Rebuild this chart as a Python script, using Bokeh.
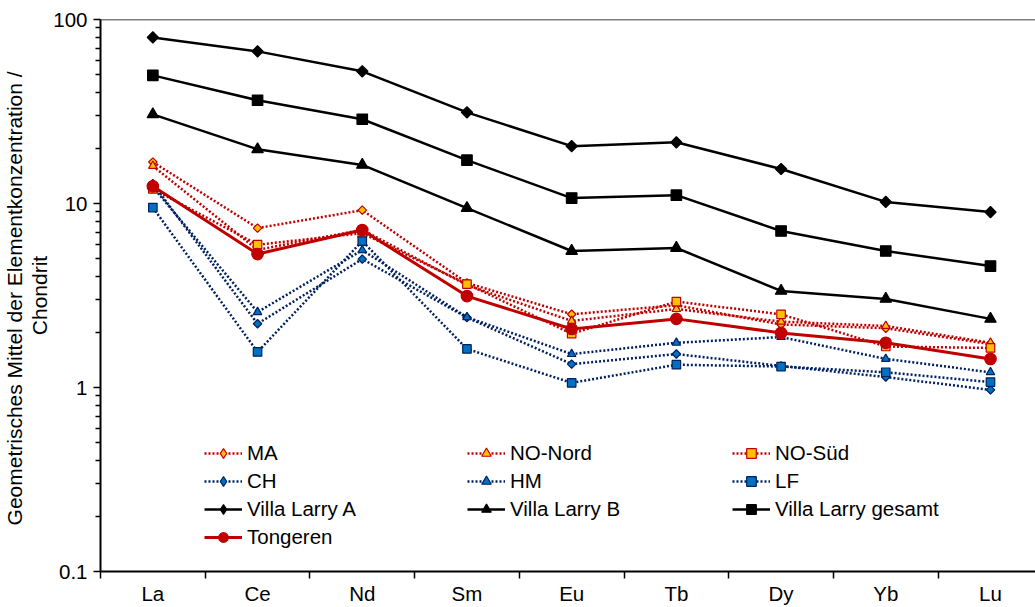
from bokeh.plotting import figure
from bokeh.models import Range1d, FixedTicker, CustomJSTickFormatter, Legend, LegendItem, Span, Title
from bokeh.embed import file_html
from bokeh.resources import INLINE
import numpy as np

elements = ["La", "Ce", "Nd", "Sm", "Eu", "Tb", "Dy", "Yb", "Lu"]
ma = [16.8, 7.35, 9.2, 3.7, 2.5, 2.8, 2.2, 2.1, 1.72]
no_nord = [16.0, 5.6, 7.2, 3.6, 2.3, 2.67, 2.28, 2.16, 1.75]
no_sued = [12.0, 5.97, 6.9, 3.65, 1.96, 2.93, 2.5, 1.67, 1.64]
ch = [12.8, 2.22, 4.99, 2.4, 1.34, 1.52, 1.31, 1.14, 0.97]
hm = [12.3, 2.57, 5.58, 2.41, 1.52, 1.75, 1.88, 1.43, 1.21]
lf = [9.5, 1.56, 6.25, 1.62, 1.06, 1.33, 1.30, 1.21, 1.07]
vl_a = [79.9, 67.1, 52.3, 31.3, 20.5, 21.5, 15.4, 10.2, 8.98]
vl_b = [30.5, 19.7, 16.2, 9.44, 5.52, 5.73, 3.35, 3.03, 2.36]
vl_g = [49.7, 36.4, 28.7, 17.2, 10.7, 11.1, 7.09, 5.52, 4.57]
tongeren = [12.4, 5.31, 7.17, 3.14, 2.08, 2.36, 1.98, 1.75, 1.43]
y_title = ["Geometrisches Mittel der Elementkonzentration  /", "Chondrit"]

FONT = "Liberation Sans"
FS = "20.5px"
FS_LABEL = "21px"
RED = "#C00000"
ORANGE = "#FFC000"
NAVY = "#002060"
BLUE = "#0070C0"

xs = [i + 0.5 for i in range(len(elements))]

p = figure(width=1035, height=607, y_axis_type="log",
           x_range=Range1d(0, 8.93), y_range=Range1d(0.1, 100),
           output_backend="svg", toolbar_location=None,
           min_border_left=100, min_border_right=0,
           min_border_top=19, min_border_bottom=35)
p.outline_line_color = None
p.grid.visible = False
p.background_fill_color = "white"

# top frame line
p.add_layout(Span(location=100, dimension="width", line_color="black", line_width=1.5))

D = np.pi / 4

def series(vals, line_color, dash, lw, marker, size, fill, outline, diamond_legend=None):
    l = p.line(xs, vals, line_color=line_color, line_width=lw, line_dash=dash)
    if diamond_legend is None:
        s = p.scatter(xs, vals, marker=marker, size=size, fill_color=fill,
                      line_color=outline, line_width=1.2)
        return [l, s]
    s = p.scatter(xs, vals, marker="square", size=size, fill_color=fill,
                  line_color=outline, line_width=1.2, angle=D)
    # legend-only marker (legend glyphs ignore the rotation angle)
    lg_l = p.line([np.nan], [np.nan], line_color=line_color, line_width=lw, line_dash=dash)
    lg_s = p.scatter([np.nan], [np.nan], marker="diamond", size=diamond_legend,
                     fill_color=fill, line_color=outline, line_width=1.2)
    return [lg_l, lg_s]

r_ma = series(ma, RED, "2 2", 2.5, None, 6, ORANGE, RED, diamond_legend=10)
r_nn = series(no_nord, RED, "2 2", 2.5, "triangle", 8.5, ORANGE, RED)
r_ns = series(no_sued, RED, "2 2", 2.5, "square", 8.5, ORANGE, RED)
r_ch = series(ch, NAVY, "2 2", 2.5, None, 6, BLUE, NAVY, diamond_legend=10)
r_hm = series(hm, NAVY, "2 2", 2.5, "triangle", 8.5, BLUE, NAVY)
r_lf = series(lf, NAVY, "2 2", 2.5, "square", 8.5, BLUE, NAVY)
r_va = series(vl_a, "black", "solid", 2.5, None, 8, "black", "black", diamond_legend=13)
r_vb = series(vl_b, "black", "solid", 2.5, "triangle", 11.5, "black", "black")
r_vg = series(vl_g, "black", "solid", 2.5, "square", 10.5, "black", "black")
r_tg = series(tongeren, RED, "solid", 3, "circle", 11.5, RED, RED)

# x axis
xa = p.xaxis[0]
xa.ticker = FixedTicker(ticks=xs, minor_ticks=list(range(0, 10)))
xa.major_label_overrides = {x: e for x, e in zip(xs, elements)}
xa.major_tick_line_color = None
xa.major_tick_out = 0
xa.minor_tick_out = 7
xa.minor_tick_in = 0
xa.minor_tick_line_width = 1.5
xa.minor_tick_line_color = "black"
xa.axis_line_width = 2
xa.axis_line_color = "black"
xa.major_label_standoff = 3
xa.major_label_text_font = FONT
xa.major_label_text_font_size = FS
xa.major_label_text_color = "black"

# y axis
ya = p.yaxis[0]
minor = []
for dec in [0.1, 1, 10]:
    minor += [dec * k for k in range(2, 10)]
ya.ticker = FixedTicker(ticks=[0.1, 1, 10, 100], minor_ticks=minor)
ya.formatter = CustomJSTickFormatter(code="return String(Math.round(tick*10)/10);")
ya.major_tick_out = 7
ya.major_tick_in = 0
ya.minor_tick_out = 5
ya.minor_tick_in = 0
ya.major_tick_line_width = 1.5
ya.minor_tick_line_width = 1.5
ya.major_tick_line_color = "black"
ya.minor_tick_line_color = "black"
ya.axis_line_width = 2
ya.axis_line_color = "black"
ya.major_label_standoff = 6
ya.major_label_text_font = FONT
ya.major_label_text_font_size = FS
ya.major_label_text_color = "black"

# y-axis title (two lines) as left-side titles; the one added first sits nearer the axis
for txt in reversed(y_title):
    p.add_layout(Title(text=txt, align="center", standoff=0,
                       text_font=FONT, text_font_size=FS_LABEL,
                       text_font_style="normal", text_color="black"), "left")

def make_legend(items, loc):
    lg = Legend(items=[LegendItem(label=n, renderers=r) for n, r in items],
                location=loc, orientation="vertical",
                glyph_width=38, glyph_height=24, label_height=24,
                spacing=4, padding=0, margin=0, label_standoff=5,
                border_line_color=None, background_fill_alpha=0,
                label_text_font=FONT, label_text_font_size=FS,
                label_text_color="black")
    p.add_layout(lg)

make_legend([("MA", r_ma), ("CH", r_ch), ("Villa Larry A", r_va), ("Tongeren", r_tg)], (104, 22))
make_legend([("NO-Nord", r_nn), ("HM", r_hm), ("Villa Larry B", r_vb)], (367, 50))
make_legend([("NO-Süd", r_ns), ("LF", r_lf), ("Villa Larry gesamt", r_vg)], (632, 50))

open("out.html", "w").write(file_html(p, INLINE))
